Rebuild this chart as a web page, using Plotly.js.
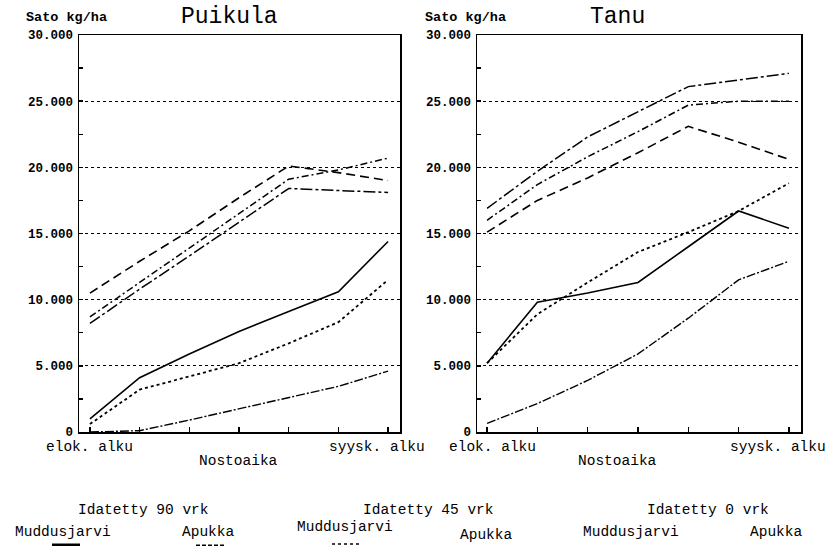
<!DOCTYPE html>
<html>
<head>
<meta charset="utf-8">
<script src="https://cdn.plot.ly/plotly-3.0.1.min.js"></script>
<style>html,body{margin:0;padding:0;background:#fff;}#chart{width:830px;height:546px;}</style>
</head>
<body>
<div id="chart"></div>
<script>
// ---- data ----
const xPos = [0, 1, 2, 3, 4, 5, 6];
const yTickVals = [0, 5000, 10000, 15000, 20000, 25000, 30000];
const yTickLabels = ['0', '5.000', '10.000', '15.000', '20.000', '25.000', '30.000'];
const xLabelStart = 'elok. alku';
const xLabelEnd = 'syysk. alku';

// Puikula
const puikulaM90 = [1000, 4100, 5900, 7600, 9100, 10600, 14400];
const puikulaM45 = [600, 3200, 4200, 5200, 6700, 8300, 11500];
const puikulaM0  = [0, 100, 900, 1750, 2600, 3450, 4600];
const puikulaA90 = [10500, 12900, 15200, 17700, 20100, 19600, 19000];
const puikulaA45 = [8700, 11300, 13900, 16500, 19100, 19800, 20700];
const puikulaA0  = [8200, 10800, 13300, 15850, 18400, 18250, 18100];

// Tanu
const tanuM90 = [5200, 9800, 10500, 11300, 14000, 16700, 15400];
const tanuM45 = [5200, 8900, 11300, 13600, 15100, 16700, 18800];
const tanuM0  = [650, 2150, 3900, 5900, 8600, 11500, 12900];
const tanuA90 = [15100, 17500, 19200, 21100, 23100, 21900, 20600];
const tanuA45 = [16000, 18700, 20800, 22700, 24700, 25000, 25000];
const tanuA0  = [16900, 19700, 22300, 24200, 26100, 26600, 27100];

const panelTitles = ['Puikula', 'Tanu'];
const yAxisTitle = 'Sato kg/ha';
const xAxisTitle = 'Nostoaika';
const groupLabels = ['Idatetty 90 vrk', 'Idatetty 45 vrk', 'Idatetty 0 vrk'];
const varietyLabels = ['Muddusjarvi', 'Apukka'];

// ---- styles ----
const styles = {
  M90: {dash: 'solid', width: 1.6},
  M45: {dash: 'dot', width: 1.8},
  M0:  {dash: '9px,2px,2px,2px', width: 1.4},
  A90: {dash: '9px,5px', width: 1.6},
  A45: {dash: '7px,3px,2px,3px', width: 1.5},
  A0:  {dash: '12px,3px,3px,3px', width: 1.5}
};

function tr(y, key, xa, ya) {
  return {x: xPos, y: y, xaxis: xa, yaxis: ya, type: 'scatter', mode: 'lines',
    line: {color: '#000', dash: styles[key].dash, width: styles[key].width},
    showlegend: false, hoverinfo: 'skip'};
}

const data = [
  tr(puikulaM90, 'M90', 'x', 'y'), tr(puikulaM45, 'M45', 'x', 'y'), tr(puikulaM0, 'M0', 'x', 'y'),
  tr(puikulaA90, 'A90', 'x', 'y'), tr(puikulaA45, 'A45', 'x', 'y'), tr(puikulaA0, 'A0', 'x', 'y'),
  tr(tanuM90, 'M90', 'x2', 'y2'), tr(tanuM45, 'M45', 'x2', 'y2'), tr(tanuM0, 'M0', 'x2', 'y2'),
  tr(tanuA90, 'A90', 'x2', 'y2'), tr(tanuA45, 'A45', 'x2', 'y2'), tr(tanuA0, 'A0', 'x2', 'y2')
];

const W = 830, H = 546;
const px = v => v / W;
const py = v => 1 - v / H;

const monoBold = {family: 'Liberation Mono, DejaVu Sans Mono, monospace', size: 12.5, color: '#000', weight: 'bold'};
const mono = {family: 'Liberation Mono, DejaVu Sans Mono, monospace', size: 14.5, color: '#000'};

function xaxis(domain, range) {
  return {domain: domain, range: range, tickmode: 'array', tickvals: xPos, ticktext: xPos.map(() => ''),
    ticks: 'inside', ticklen: 5, tickwidth: 1.5, tickcolor: '#000',
    showline: true, linecolor: '#000', linewidth: 1.5, mirror: true,
    showgrid: false, zeroline: false, fixedrange: true, automargin: false};
}
function yaxis(domain, anchor) {
  return {domain: domain, anchor: anchor, range: [0, 30000], tickmode: 'array', tickvals: yTickVals, ticktext: yTickLabels,
    ticks: 'inside', ticklen: 4, tickwidth: 1.5, tickcolor: '#000', ticklabelstandoff: 2,
    minor: {tickmode: 'linear', tick0: 0, dtick: 2500, ticks: 'inside', ticklen: 4, tickwidth: 1.2, tickcolor: '#000', showgrid: false},
    tickfont: monoBold,
    showline: true, linecolor: '#000', linewidth: 1.5, mirror: true,
    showgrid: true, gridcolor: '#000', gridwidth: 1.3, griddash: 'dot',
    zeroline: false, fixedrange: true, automargin: false};
}

const yDom = [py(432), py(35)];
const layout = {
  width: W, height: H,
  margin: {l: 0, r: 0, t: 0, b: 0},
  paper_bgcolor: '#fff', plot_bgcolor: '#fff',
  showlegend: false,
  xaxis: Object.assign(xaxis([px(79), px(400)], [-0.22, 6.24]), {anchor: 'y'}),
  yaxis: yaxis(yDom, 'x'),
  xaxis2: Object.assign(xaxis([px(477), px(801)], [-0.2, 6.24]), {anchor: 'y2'}),
  yaxis2: yaxis(yDom, 'x2'),
  annotations: [],
  shapes: []
};

const A = layout.annotations;
function txt(text, x, y, font, xanchor) {
  A.push({text: text, x: px(x), y: py(y), xref: 'paper', yref: 'paper', showarrow: false,
    xanchor: xanchor || 'center', yanchor: 'middle', font: font});
}
// panel titles
const titleFont = {family: 'Liberation Mono, DejaVu Sans Mono, monospace', size: 23, color: '#000'};
txt(panelTitles[0], 229, 17, titleFont);
txt(panelTitles[1], 617, 17, titleFont);
// y-axis titles
const ytFont = {family: 'Liberation Mono, DejaVu Sans Mono, monospace', size: 13.5, color: '#000', weight: 'bold'};
txt(yAxisTitle, 24, 18, ytFont, 'left');
txt(yAxisTitle, 423, 18, ytFont, 'left');
// x tick labels
function xl(text, x, xref) {
  A.push({text: text, x: x, y: py(447), xref: xref, yref: 'paper', showarrow: false,
    xanchor: 'center', yanchor: 'middle', font: mono});
}
xl(xLabelStart, 0, 'x'); xl(xLabelEnd, 5.78, 'x');
xl(xLabelStart, 0.1, 'x2'); xl(xLabelEnd, 5.78, 'x2');
// x axis titles
txt(xAxisTitle, 238, 461, mono);
txt(xAxisTitle, 617, 461, mono);
// legend text
txt(groupLabels[0], 143, 510, mono);
txt(groupLabels[1], 428, 510, mono);
txt(groupLabels[2], 708, 510, mono);
txt(varietyLabels[0], 63, 532, mono);
txt(varietyLabels[1], 208, 532, mono);
txt(varietyLabels[0], 345, 527, mono);
txt(varietyLabels[1], 486, 535, mono);
txt(varietyLabels[0], 631, 532, mono);
txt(varietyLabels[1], 776, 532, mono);

// legend samples (mostly cut off at the bottom edge)
const S = layout.shapes;
S.push({type: 'line', xref: 'paper', yref: 'paper', x0: px(52), x1: px(80), y0: py(545), y1: py(545), line: {color: '#000', width: 3}});
S.push({type: 'line', xref: 'paper', yref: 'paper', x0: px(196), x1: px(226), y0: py(545.5), y1: py(545.5), line: {color: '#000', width: 2, dash: '4px,2px'}});
S.push({type: 'line', xref: 'paper', yref: 'paper', x0: px(332), x1: px(360), y0: py(544), y1: py(544), line: {color: '#000', width: 1.5, dash: 'dot'}});

Plotly.newPlot('chart', data, layout, {displayModeBar: false, staticPlot: true});
</script>
</body>
</html>
